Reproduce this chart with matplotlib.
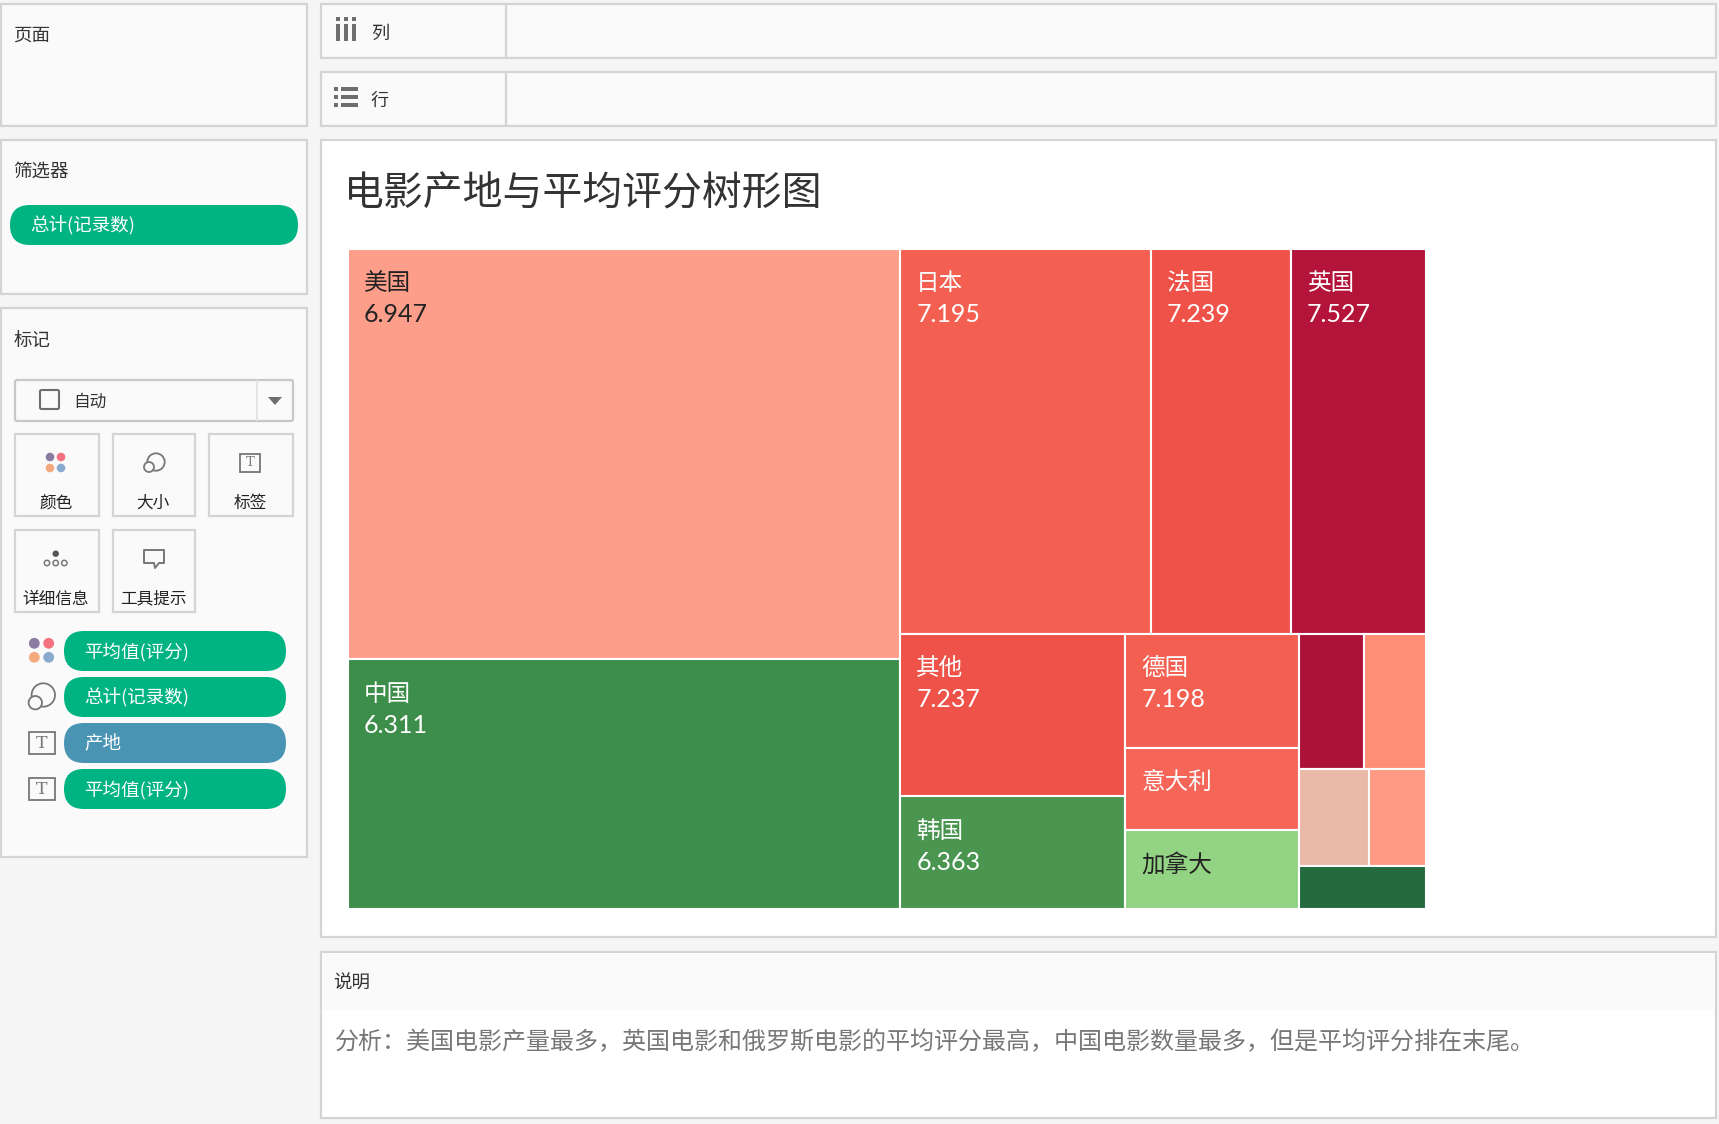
import matplotlib
matplotlib.use("Agg")
import matplotlib.pyplot as plt
from matplotlib.patches import Rectangle, FancyBboxPatch, Circle, Polygon

plt.rcParams['font.family'] = ['Noto Sans CJK SC', 'DejaVu Sans']

# tiles, biggest first. the small ones have no label in the picture
origins = ['美国', '中国', '日本', '法国', '英国', '其他', '韩国', '德国', '意大利', '加拿大',
           '', '', '', '', '']
counts = [1872, 1140, 796, 447, 429, 302, 210, 163, 118, 113, 74, 69, 56, 46, 45]
ratings = [6.947, 6.311, 7.195, 7.239, 7.527, 7.237, 6.363, 7.198, None, None,
           None, None, None, None, None]

tile_colors = ['#FD9E8B', '#3D8D4B', '#F36052', '#EE5249', '#B4133A', '#EE5249', '#4A9651',
               '#F36052', '#F56558', '#93D384', '#AC1138', '#FE8E76', '#EABAA8', '#FE9A84',
               '#236B3F']
dark_text = ['美国', '加拿大']

# how tableau nested the tiles: h = side by side, v = stacked
tree = ('h', [('v', [0, 1]),
              ('v', [('h', [2, 3, 4]),
                     ('h', [('v', [5, 6]),
                            ('v', [7, 8, 9]),
                            ('v', [('h', [10, 11]), ('h', [12, 13]), 14])])])])

title = '电影产地与平均评分树形图'
note = '分析：美国电影产量最多，英国电影和俄罗斯电影的平均评分最高，中国电影数量最多，但是平均评分排在末尾。'

BG = '#F5F5F5'
PANEL = '#FAFAFA'
BORDER = '#D4D4D4'
GREEN = '#00B382'
BLUE = '#4A94B3'
ICON = '#6E6E6E'


def subtotal(node):
    if isinstance(node, int):
        return counts[node]
    return sum(subtotal(c) for c in node[1])


def layout(node, x0, y0, x1, y1, out):
    if isinstance(node, int):
        out[node] = (x0, y0, x1, y1)
        return
    direction, children = node
    total = subtotal(node)
    pos = x0 if direction == 'h' else y0
    for c in children:
        share = subtotal(c) / total
        if direction == 'h':
            layout(c, pos, y0, pos + share * (x1 - x0), y1, out)
            pos += share * (x1 - x0)
        else:
            layout(c, x0, pos, x1, pos + share * (y1 - y0), out)
            pos += share * (y1 - y0)


fig = plt.figure(figsize=(17.19, 11.24), dpi=100, facecolor=BG)
ax = fig.add_axes([0, 0, 1, 1])
ax.set_xlim(0, 1719)
ax.set_ylim(1124, 0)
ax.axis('off')


def panel(x0, y0, x1, y1, fc=PANEL):
    ax.add_patch(Rectangle((x0, y0), x1 - x0, y1 - y0, fc=fc, ec=BORDER, lw=1.6))


def label(x, y, s, size=13.3, color='#333333', ha='left', **kw):
    # noto sits a bit high when centred
    ax.text(x, y + 2.2, s, fontsize=size, color=color, ha=ha, va='center', **kw)


def pill(x0, x1, yc, s, color=GREEN):
    h = 40
    ax.add_patch(FancyBboxPatch((x0, yc - h / 2), x1 - x0, h, fc=color, ec='none',
                                boxstyle='round,pad=0,rounding_size=20'))
    label(x0 + 20, yc - 1, s, color='white')


def dots(x0, x1, y0, y1, r):
    for x, y, c in [(x0, y0, '#8B7BA3'), (x1, y0, '#F4727F'),
                    (x0, y1, '#F4A97F'), (x1, y1, '#8AA9CF')]:
        ax.add_patch(Circle((x, y), r, fc=c, ec='none'))


def size_icon(xb, yb, rb, xs, ys, rs):
    ax.add_patch(Circle((xb, yb), rb, fc='none', ec='#777777', lw=1.3))
    ax.add_patch(Circle((xs, ys), rs, fc=PANEL, ec='#777777', lw=1.3))


def t_icon(x0, y0, x1, y1, size):
    ax.add_patch(Rectangle((x0, y0), x1 - x0, y1 - y0, fc='none', ec='#777777', lw=1.3))
    ax.text((x0 + x1) / 2, (y0 + y1) / 2, 'T', fontsize=size, color='#777777',
            ha='center', va='center', family='DejaVu Serif')


# left column
panel(1, 4, 307, 126)
label(13, 33, '页面')
panel(1, 140, 307, 294)
label(13, 169, '筛选器')
pill(10, 298, 225, '总计(记录数)')
panel(1, 308, 307, 857)
label(14, 340, '标记')

# mark type dropdown
ax.add_patch(FancyBboxPatch((15, 380), 278, 41, fc=PANEL, ec='#C8C8C8', lw=1.6,
                            boxstyle='round,pad=0,rounding_size=2'))
ax.plot([257, 257], [381, 420], color='#E4E4E4', lw=1.4)
ax.add_patch(FancyBboxPatch((40, 390), 19, 19, fc=PANEL, ec=ICON, lw=1.5,
                            boxstyle='round,pad=0,rounding_size=1.5'))
label(73, 400, '自动', size=12)
ax.add_patch(Polygon([(268, 397), (282, 397), (275, 405)], fc=ICON, ec='none'))

# mark cards
for x0, x1, y0, y1, s in [(15, 99, 434, 516, '颜色'), (113, 195, 434, 516, '大小'),
                          (209, 293, 434, 516, '标签'), (15, 99, 530, 612, '详细信息'),
                          (113, 195, 530, 612, '工具提示')]:
    panel(x0, y0, x1, y1)
    label((x0 + x1) / 2 - 1, y1 - 15, s, size=12, color='#222222', ha='center')

dots(50, 61, 457, 468, 4.3)
size_icon(156, 462, 8.7, 149, 467, 5)
t_icon(240, 454, 260, 472, 9.5)
ax.add_patch(Circle((55.7, 553.7), 3.2, fc='#555555', ec='none'))
for x in (47, 55.7, 64.3):
    ax.add_patch(Circle((x, 563), 2.7, fc='none', ec='#777777', lw=1.1))
ax.add_patch(Polygon([(144, 550), (164, 550), (164, 563), (159, 563), (155, 568), (154, 563), (144, 563)],
                     fc='none', ec='#777777', lw=1.4, joinstyle='round'))

# marks shelf
dots(34.3, 48.7, 643.3, 657.3, 5.4)
pill(64, 286, 651, '平均值(评分)')
size_icon(43.3, 695, 11.7, 35.3, 702.7, 6.7)
pill(64, 286, 697, '总计(记录数)')
t_icon(29, 732, 55, 754, 12.5)
pill(64, 286, 743, '产地', color=BLUE)
t_icon(29, 778, 55, 800, 12.5)
pill(64, 286, 789, '平均值(评分)')

# column and row shelves
panel(321, 4, 1716, 58)
ax.plot([506, 506], [5, 57], color=BORDER, lw=1.6)
for x in (336, 344, 352):
    ax.add_patch(Rectangle((x, 17), 4, 4, fc=ICON, ec='none'))
    ax.add_patch(Rectangle((x, 24), 4, 17, fc=ICON, ec='none'))
label(371, 32, '列', size=13)

panel(321, 72, 1716, 126)
ax.plot([506, 506], [73, 125], color=BORDER, lw=1.6)
for y in (87, 95, 103):
    ax.add_patch(Rectangle((334, y), 4, 4, fc=ICON, ec='none'))
    ax.add_patch(Rectangle((341, y), 17, 4, fc=ICON, ec='none'))
label(371, 99, '行', size=13)

# main view
panel(321, 140, 1716, 937, fc='white')
label(344, 192, title, size=28.7, weight='light')

# caption
panel(321, 952, 1716, 1118, fc='white')
ax.add_patch(Rectangle((322, 953), 1393, 57, fc=PANEL, ec='none'))
label(333, 982, '说明')
label(335, 1040, note, size=17.3, color='#777777', weight='light')

# treemap has its own 0..1 axes, a pixel larger each side for the white outline
tm = fig.add_axes([348 / 1719, 1 - 909 / 1124, 1078 / 1719, 660 / 1124])
tm.set_xlim(0, 1)
tm.set_ylim(1, 0)
tm.axis('off')

rects = {}
layout(tree, 0, 0, 1, 1, rects)
PX = 0.72  # points per pixel at dpi 100
for i, name in enumerate(origins):
    x0, y0, x1, y1 = rects[i]
    tm.add_patch(Rectangle((x0, y0), x1 - x0, y1 - y0, fc=tile_colors[i], ec='white', lw=1.5))
    if not name:
        continue
    color = '#222222' if name in dark_text else 'white'
    tm.annotate(name, (x0, y0), xytext=(16 * PX, -35 * PX), textcoords='offset points',
                fontsize=17, color=color, va='center', weight='light')
    if ratings[i] is not None:
        tm.annotate('%.3f' % ratings[i], (x0, y0), xytext=(16 * PX, -66 * PX),
                    textcoords='offset points', fontsize=18, color=color, va='center',
                    family='Lato')

fig.savefig('out.png', dpi=100, facecolor=BG)
